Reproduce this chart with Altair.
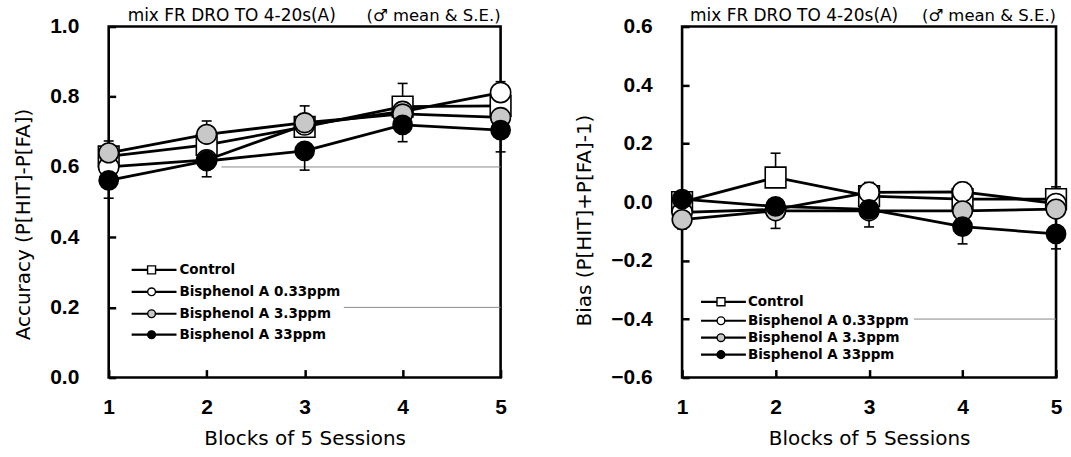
import altair as alt
import pandas as pd

# ---------------- data ----------------
blocks = [1, 2, 3, 4, 5]
series = ["Control", "Bisphenol A 0.33ppm", "Bisphenol A 3.3ppm", "Bisphenol A 33ppm"]

# Accuracy (P[HIT]-P[FA])
acc_control = [0.630, 0.663, 0.714, 0.772, 0.774]
acc_bpa033 = [0.600, 0.620, 0.720, 0.758, 0.812]
acc_bpa33 = [0.640, 0.693, 0.726, 0.751, 0.741]
acc_bpa330 = [0.562, 0.617, 0.646, 0.720, 0.705]
# visible S.E. bars (upward / downward), None = not drawn
acc_se_up_control = [None, None, None, 0.066, None]
acc_se_up_bpa033 = [None, None, None, None, 0.031]
acc_se_up_bpa33 = [0.034, 0.038, 0.048, None, None]
acc_se_dn_bpa330 = [0.051, 0.045, 0.055, 0.048, 0.062]

# Bias (P[HIT]+P[FA]-1)
bias_control = [0.000, 0.084, 0.020, 0.010, 0.010]
bias_bpa033 = [-0.035, -0.025, 0.033, 0.035, -0.005]
bias_bpa33 = [-0.060, -0.030, -0.030, -0.030, -0.024]
bias_bpa330 = [0.010, -0.015, -0.025, -0.084, -0.109]
bias_se_up_control = [None, 0.083, None, None, 0.042]
bias_se_up_bpa033 = [None, None, 0.034, 0.032, None]
bias_se_dn_bpa033 = [None, 0.065, None, None, None]
bias_se_dn_bpa33 = [0.032, None, 0.055, None, None]
bias_se_dn_bpa330 = [None, None, None, 0.059, 0.051]

acc_ticks = [0.0, 0.2, 0.4, 0.6, 0.8, 1.0]
bias_ticks = [-0.6, -0.4, -0.2, 0.0, 0.2, 0.4, 0.6]

title_left = "mix FR DRO TO 4-20s(A)"
title_right = "(\u2642 mean & S.E.)"

# ---------------- styles ----------------
shapes = ["square", "circle", "circle", "circle"]
fills = ["white", "white", "#c8c8c8", "black"]
sizes = [430, 370, 370, 370]
legend_sizes = [64, 60, 60, 60]
LABEL_FONT = "Liberation Sans"
TEXT_FONT = "DejaVu Sans"


def long_df(vals):
    rows = []
    for s, v in zip(series, vals):
        for b, y in zip(blocks, v):
            rows.append({"block": b, "value": y, "series": s})
    return pd.DataFrame(rows)


def err_df(vals, ups, dns):
    rows = []
    for s, v in zip(series, vals):
        up = ups.get(s, [None] * 5)
        dn = dns.get(s, [None] * 5)
        for b, y, u, d in zip(blocks, v, up, dn):
            if u is not None:
                rows.append({"block": b, "lo": y, "hi": y + u, "cap": y + u})
            if d is not None:
                rows.append({"block": b, "lo": y - d, "hi": y, "cap": y - d})
    return pd.DataFrame(rows)


def panel(vals, ups, dns, ydomain, yticks, ytitle, width, height, title_y,
          top_text_x, legend_geom, artifacts):
    df = long_df(vals)
    edf = err_df(vals, ups, dns)
    xsc = alt.Scale(domain=[1, 5], nice=False, zero=False)
    ysc = alt.Scale(domain=ydomain, nice=False, zero=False)
    xax = alt.Axis(values=blocks, format="d", title="Blocks of 5 Sessions",
                   offset=-8, tickSize=8, tickWidth=2.5, tickColor="black",
                   domain=False, grid=False, labelFlush=False,
                   labelPadding=19, labelFont=LABEL_FONT, labelFontWeight="bold",
                   labelFontSize=21, labelColor="black",
                   titleFont=TEXT_FONT, titleFontSize=20, titleFontWeight="normal",
                   titleColor="black", titlePadding=11)
    yax = alt.Axis(values=yticks, format=".1f", title=ytitle,
                   offset=-7, tickSize=7, tickWidth=2.5, tickColor="black",
                   domain=False, grid=False, labelFlush=False,
                   labelPadding=30, labelFont=LABEL_FONT, labelFontWeight="bold",
                   labelFontSize=21, labelColor="black",
                   titleFont=TEXT_FONT, titleFontSize=20, titleFontWeight="normal",
                   titleColor="black", titlePadding=16, titleY=title_y)

    base = alt.Chart(df)
    # artifacts (faint horizontal scan lines)
    art = alt.Chart(pd.DataFrame(artifacts, columns=["lvl", "x1", "x2"])).mark_rule(
        color="#8a8a8a", strokeWidth=1
    ).encode(x=alt.X("x1:Q", scale=xsc, axis=xax), x2="x2:Q",
             y=alt.Y("lvl:Q", scale=ysc, axis=yax))

    bars = alt.Chart(edf).mark_rule(color="black", strokeWidth=1.6).encode(
        x=alt.X("block:Q", scale=xsc), y=alt.Y("lo:Q", scale=ysc), y2="hi:Q")
    caps = alt.Chart(edf).mark_rule(color="black", strokeWidth=1.6,
                                    xOffset=-5, x2Offset=5).encode(
        x=alt.X("block:Q", scale=xsc), x2="block:Q", y=alt.Y("cap:Q", scale=ysc))

    lines = base.mark_line(color="black", strokeWidth=2.8).encode(
        x=alt.X("block:Q", scale=xsc), y=alt.Y("value:Q", scale=ysc),
        detail="series:N")
    pts = base.mark_point(filled=True, stroke="black", strokeWidth=1.6,
                          opacity=1, fillOpacity=1).encode(
        x=alt.X("block:Q", scale=xsc), y=alt.Y("value:Q", scale=ysc),
        shape=alt.Shape("series:N", scale=alt.Scale(domain=series, range=shapes), legend=None),
        fill=alt.Fill("series:N", scale=alt.Scale(domain=series, range=fills), legend=None),
        size=alt.Size("series:N", scale=alt.Scale(domain=series, range=sizes), legend=None),
    )

    txt_df = pd.DataFrame({"t": [title_left, title_right]})
    t1 = alt.Chart(txt_df.iloc[[0]]).mark_text(
        align="left", baseline="alphabetic", font=TEXT_FONT, fontSize=17, color="black"
    ).encode(x=alt.value(top_text_x), y=alt.value(-6), text="t:N")
    t2 = alt.Chart(txt_df.iloc[[1]]).mark_text(
        align="right", baseline="alphabetic", font=TEXT_FONT, fontSize=16.5, color="black"
    ).encode(x=alt.value(width), y=alt.value(-6), text="t:N")

    lx1, lx2, mx, tx, rows_y = legend_geom
    leg = []
    for i, s in enumerate(series):
        one = pd.DataFrame({"label": [s]})
        leg.append(alt.Chart(one).mark_rule(color="black", strokeWidth=2.2).encode(
            x=alt.value(lx1), x2=alt.value(lx2), y=alt.value(rows_y[i])))
        leg.append(alt.Chart(one).mark_point(
            filled=True, shape=shapes[i], fill=fills[i], stroke="black",
            strokeWidth=1.4, size=legend_sizes[i], opacity=1).encode(
            x=alt.value(mx), y=alt.value(rows_y[i])))
        leg.append(alt.Chart(one).mark_text(
            align="left", baseline="middle", font=TEXT_FONT, fontWeight="bold",
            fontSize=13.5, color="black").encode(
            x=alt.value(tx), y=alt.value(rows_y[i]), text="label:N"))

    return alt.layer(art, bars, caps, lines, pts, t1, t2, *leg).properties(
        width=width, height=height)


left = panel([acc_control, acc_bpa033, acc_bpa33, acc_bpa330],
             {"Control": acc_se_up_control, "Bisphenol A 0.33ppm": acc_se_up_bpa033,
              "Bisphenol A 3.3ppm": acc_se_up_bpa33},
             {"Bisphenol A 33ppm": acc_se_dn_bpa330},
             [0, 1], acc_ticks, "Accuracy (P[HIT]-P[FA])", 393, 352, 198, 19,
             (23, 68, 43, 71, [244, 266, 288, 309]),
             [[0.6, 2.15, 5.0], [0.2, 3.4, 5.0]])

right = panel([bias_control, bias_bpa033, bias_bpa33, bias_bpa330],
              {"Control": bias_se_up_control, "Bisphenol A 0.33ppm": bias_se_up_bpa033},
              {"Bisphenol A 0.33ppm": bias_se_dn_bpa033, "Bisphenol A 3.3ppm": bias_se_dn_bpa33,
               "Bisphenol A 33ppm": bias_se_dn_bpa330},
              [-0.6, 0.6], bias_ticks, "Bias (P[HIT]+P[FA]-1)", 375, 352, 194, 8,
              (19, 64, 39, 66, [276, 295, 312, 329]),
              [[-0.4, 3.48, 5.0]])

chart = alt.hconcat(left, right, spacing=182, bounds="flush").configure_view(
    stroke="black", strokeWidth=2.6
).properties(
    padding={"left": 12, "top": 4, "right": 0, "bottom": 0},
    background="white",
)

chart.save("out.html", embed_options={"renderer": "svg", "actions": False})
